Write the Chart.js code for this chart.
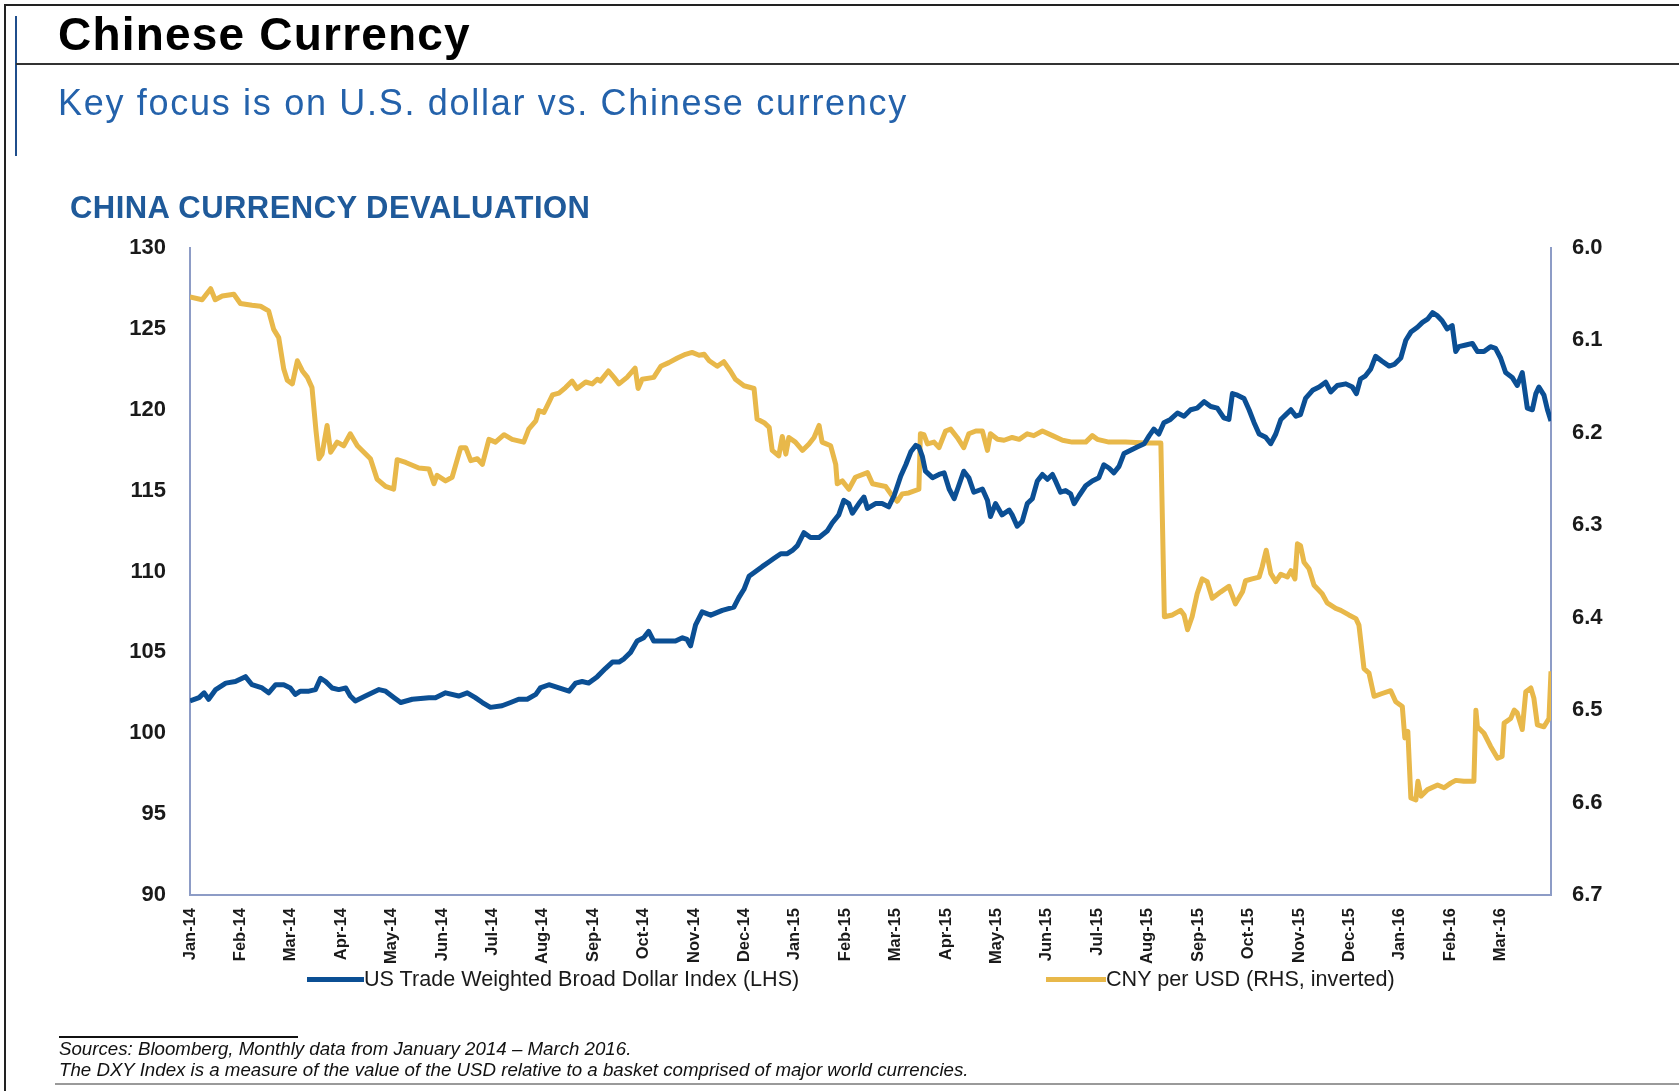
<!DOCTYPE html>
<html>
<head>
<meta charset="utf-8">
<script src="https://cdn.jsdelivr.net/npm/chart.js@4.4.1/dist/chart.umd.min.js"></script>
<style>
  html, body { margin: 0; padding: 0; background: #fff; }
  body { width: 1679px; height: 1091px; position: relative; overflow: hidden; font-family: 'Liberation Sans', Arial, sans-serif; }
  .abs { position: absolute; white-space: nowrap; line-height: 1; }
  #frame { left: 4px; top: 4px; width: 1675px; height: 1087px; border-left: 2px solid #222; border-top: 2px solid #222; }
  #accent { left: 15px; top: 16px; width: 2px; height: 140px; background: #1f4e8c; }
  #title { left: 58px; top: 11px; font-size: 46px; font-weight: bold; letter-spacing: 1.2px; color: #000; }
  #rule { left: 16px; top: 63px; width: 1663px; height: 2px; background: #333; }
  #subtitle { left: 58px; top: 85px; font-size: 36px; letter-spacing: 1.7px; color: #2462ab; }
  #heading { left: 70px; top: 192px; font-size: 31px; font-weight: bold; letter-spacing: 0.45px; color: #1f5a9a; }
  #chartBox { left: 0; top: 0; width: 1679px; height: 1091px; }
  .legend { top: 968px; font-size: 21.6px; color: #1a1a1a; }
  .swatch { position: absolute; height: 5px; top: 977px; }
  #noteRule { left: 59px; top: 1036px; width: 239px; height: 2px; background: #111; }
  .note { left: 59px; font-size: 18.7px; font-style: italic; color: #111; }
  #footRule { left: 55px; top: 1083px; width: 1624px; height: 2px; background: #9a9a9a; }
</style>
</head>
<body>
<div id="chartBox" class="abs"><canvas id="currencyChart"></canvas></div>
<div id="frame" class="abs"></div>
<div id="accent" class="abs"></div>
<div id="title" class="abs">Chinese Currency</div>
<div id="rule" class="abs"></div>
<div id="subtitle" class="abs">Key focus is on U.S. dollar vs. Chinese currency</div>
<div id="heading" class="abs">CHINA CURRENCY DEVALUATION</div>

<div class="swatch" style="left:307px;width:57px;background:#0b4f94;"></div>
<div class="abs legend" style="left:364px;">US Trade Weighted Broad Dollar Index (LHS)</div>
<div class="swatch" style="left:1046px;width:60px;background:#e8b84a;"></div>
<div class="abs legend" style="left:1106px;">CNY per USD (RHS, inverted)</div>

<div id="noteRule" class="abs"></div>
<div class="abs note" style="top:1040px;">Sources: Bloomberg, Monthly data from January 2014 – March 2016.</div>
<div class="abs note" style="top:1061px;">The DXY Index is a measure of the value of the USD relative to a basket comprised of major world currencies.</div>
<div id="footRule" class="abs"></div>

<script>
// month labels, one per tick (0 = Jan-14)
const monthLabels = ['Jan-14', 'Feb-14', 'Mar-14', 'Apr-14', 'May-14', 'Jun-14', 'Jul-14', 'Aug-14', 'Sep-14',
  'Oct-14', 'Nov-14', 'Dec-14', 'Jan-15', 'Feb-15', 'Mar-15', 'Apr-15', 'May-15', 'Jun-15', 'Jul-15',
  'Aug-15', 'Sep-15', 'Oct-15', 'Nov-15', 'Dec-15', 'Jan-16', 'Feb-16', 'Mar-16'];

// US trade weighted broad dollar index: time in months since Jan-14, value
const dollarMonths = [0, 0.18, 0.28, 0.37, 0.51, 0.71, 0.9, 1.1, 1.23, 1.43, 1.56, 1.7, 1.86, 1.99, 2.09, 2.19,
  2.36, 2.49, 2.59, 2.69, 2.82, 2.95, 3.09, 3.18, 3.28, 3.48, 3.75, 3.88, 4.05, 4.18, 4.41, 4.74, 4.87, 5.07,
  5.33, 5.5, 5.66, 5.8, 5.96, 6.19, 6.36, 6.52, 6.69, 6.86, 6.95, 7.12, 7.32, 7.52, 7.65, 7.78, 7.91, 8.08,
  8.24, 8.38, 8.51, 8.61, 8.74, 8.87, 9.0, 9.1, 9.2, 9.43, 9.63, 9.77, 9.86, 9.93, 10.03, 10.16, 10.33, 10.56,
  10.79, 10.89, 10.99, 11.09, 11.22, 11.35, 11.49, 11.58, 11.72, 11.85, 11.95, 12.05, 12.18, 12.31, 12.48,
  12.64, 12.74, 12.87, 12.97, 13.07, 13.14, 13.27, 13.37, 13.44, 13.6, 13.73, 13.86, 13.97, 14.1, 14.2, 14.3,
  14.4, 14.46, 14.53, 14.59, 14.73, 14.86, 14.96, 15.06, 15.16, 15.25, 15.35, 15.45, 15.55, 15.72, 15.82,
  15.88, 15.98, 16.11, 16.25, 16.31, 16.41, 16.51, 16.61, 16.71, 16.81, 16.91, 17.01, 17.11, 17.17, 17.27,
  17.37, 17.47, 17.54, 17.64, 17.77, 17.9, 18.03, 18.13, 18.23, 18.33, 18.43, 18.53, 18.66, 18.79, 18.93,
  19.03, 19.12, 19.22, 19.32, 19.45, 19.59, 19.72, 19.85, 19.98, 20.12, 20.25, 20.38, 20.51, 20.61, 20.68,
  20.78, 20.91, 21.01, 21.11, 21.21, 21.34, 21.44, 21.54, 21.64, 21.74, 21.84, 21.94, 22.03, 22.13, 22.27,
  22.4, 22.53, 22.63, 22.76, 22.93, 23.06, 23.14, 23.22, 23.32, 23.42, 23.52, 23.65, 23.79, 23.89, 24.02,
  24.12, 24.22, 24.35, 24.45, 24.55, 24.65, 24.75, 24.84, 24.94, 25.04, 25.11, 25.17, 25.31, 25.44, 25.54,
  25.67, 25.8, 25.9, 26.0, 26.1, 26.23, 26.33, 26.43, 26.53, 26.63, 26.7, 26.76, 26.86, 26.93, 27.0];
const dollarIndex = [102.0, 102.2, 102.5, 102.1, 102.7, 103.1, 103.2, 103.5, 103.0, 102.8, 102.5, 103.0, 103.0,
  102.8, 102.4, 102.6, 102.6, 102.7, 103.4, 103.2, 102.8, 102.7, 102.8, 102.3, 102.0, 102.3, 102.7, 102.6,
  102.2, 101.9, 102.1, 102.2, 102.2, 102.5, 102.3, 102.5, 102.2, 101.9, 101.6, 101.7, 101.9, 102.1, 102.1,
  102.4, 102.8, 103.0, 102.8, 102.6, 103.1, 103.2, 103.1, 103.5, 104.0, 104.4, 104.4, 104.6, 105.0, 105.7,
  105.9, 106.3, 105.7, 105.7, 105.7, 105.9, 105.8, 105.4, 106.7, 107.5, 107.3, 107.6, 107.8, 108.4, 108.9,
  109.7, 110.0, 110.3, 110.6, 110.8, 111.1, 111.1, 111.3, 111.6, 112.4, 112.1, 112.1, 112.5, 113.0, 113.5,
  114.4, 114.2, 113.6, 114.2, 114.6, 113.9, 114.2, 114.2, 114.0, 114.7, 115.9, 116.6, 117.4, 117.8, 117.7,
  117.1, 116.2, 115.8, 116.0, 116.1, 115.1, 114.5, 115.3, 116.2, 115.8, 114.9, 115.1, 114.4, 113.4, 114.2,
  113.5, 113.8, 113.5, 112.8, 113.1, 114.2, 114.5, 115.6, 116.0, 115.7, 116.0, 115.6, 114.9, 115.0, 114.8,
  114.2, 114.7, 115.3, 115.6, 115.8, 116.6, 116.4, 116.1, 116.5, 117.3, 117.5, 117.7, 117.9, 118.4, 118.8,
  118.5, 119.2, 119.4, 119.8, 119.6, 120.0, 120.1, 120.5, 120.2, 120.1, 119.5, 119.4, 121.0, 120.9, 120.7,
  120.0, 119.2, 118.5, 118.3, 117.9, 118.5, 119.4, 119.7, 120.0, 119.6, 119.7, 120.7, 121.2, 121.4, 121.7,
  121.1, 121.5, 121.6, 121.4, 121.0, 121.9, 122.1, 122.5, 123.3, 123.0, 122.7, 122.8, 123.2, 124.3, 124.8,
  125.1, 125.4, 125.6, 126.0, 125.8, 125.5, 125.0, 125.2, 123.6, 123.9, 124.0, 124.1, 123.6, 123.6, 123.9,
  123.8, 123.2, 122.3, 122.0, 121.5, 122.3, 120.1, 120.0, 121.0, 121.4, 120.9, 120.0, 119.3];

// CNY per USD (plotted on the inverted right axis)
const cnyMonths = [0, 0.24, 0.41, 0.5, 0.64, 0.87, 1.0, 1.23, 1.4, 1.56, 1.66, 1.76, 1.86, 1.93, 2.03, 2.13,
  2.23, 2.33, 2.42, 2.5, 2.56, 2.62, 2.72, 2.79, 2.92, 3.05, 3.18, 3.32, 3.45, 3.58, 3.71, 3.88, 4.04, 4.11,
  4.28, 4.54, 4.74, 4.84, 4.9, 5.07, 5.2, 5.37, 5.47, 5.57, 5.7, 5.8, 5.93, 6.06, 6.23, 6.39, 6.62, 6.72,
  6.86, 6.92, 7.02, 7.12, 7.19, 7.32, 7.45, 7.58, 7.68, 7.85, 7.98, 8.08, 8.14, 8.3, 8.41, 8.51, 8.67, 8.83,
  8.89, 8.97, 9.2, 9.34, 9.5, 9.67, 9.83, 9.96, 10.1, 10.2, 10.3, 10.46, 10.59, 10.72, 10.82, 10.99, 11.19,
  11.25, 11.39, 11.49, 11.55, 11.68, 11.75, 11.82, 11.88, 12.01, 12.15, 12.28, 12.38, 12.48, 12.54, 12.71,
  12.81, 12.84, 12.94, 13.07, 13.2, 13.44, 13.54, 13.8, 13.93, 14.03, 14.13, 14.26, 14.46, 14.49, 14.56,
  14.63, 14.76, 14.86, 14.99, 15.09, 15.22, 15.35, 15.45, 15.59, 15.72, 15.82, 15.88, 16.02, 16.15, 16.31,
  16.45, 16.61, 16.74, 16.91, 17.11, 17.31, 17.5, 17.77, 17.9, 18.0, 18.23, 18.56, 18.96, 19.26, 19.33,
  19.49, 19.65, 19.72, 19.79, 19.88, 19.98, 20.08, 20.18, 20.28, 20.45, 20.61, 20.74, 20.88, 20.94, 21.07,
  21.21, 21.27, 21.35, 21.44, 21.54, 21.64, 21.77, 21.84, 21.92, 21.97, 22.03, 22.1, 22.2, 22.3, 22.46,
  22.56, 22.73, 22.83, 22.99, 23.13, 23.19, 23.29, 23.39, 23.49, 23.65, 23.82, 23.92, 24.05, 24.1, 24.16,
  24.22, 24.32, 24.36, 24.42, 24.55, 24.75, 24.88, 25.01, 25.11, 25.27, 25.47, 25.51, 25.54, 25.67, 25.8,
  25.94, 26.03, 26.07, 26.2, 26.27, 26.33, 26.43, 26.5, 26.6, 26.66, 26.73, 26.86, 26.96, 27.0];
const cnyRate = [6.053, 6.056, 6.044, 6.056, 6.052, 6.050, 6.060, 6.062, 6.063, 6.068, 6.088, 6.097, 6.131,
  6.143, 6.147, 6.122, 6.133, 6.140, 6.151, 6.198, 6.228, 6.223, 6.192, 6.221, 6.210, 6.214, 6.201, 6.214,
  6.221, 6.228, 6.250, 6.258, 6.261, 6.229, 6.232, 6.238, 6.239, 6.255, 6.246, 6.252, 6.248, 6.216, 6.216,
  6.230, 6.228, 6.234, 6.207, 6.210, 6.202, 6.207, 6.210, 6.196, 6.187, 6.176, 6.178, 6.167, 6.159, 6.157,
  6.151, 6.144, 6.152, 6.145, 6.147, 6.142, 6.144, 6.133, 6.140, 6.147, 6.140, 6.130, 6.152, 6.142, 6.140,
  6.128, 6.124, 6.119, 6.115, 6.113, 6.116, 6.115, 6.122, 6.128, 6.123, 6.133, 6.142, 6.149, 6.152, 6.185,
  6.189, 6.194, 6.219, 6.225, 6.204, 6.223, 6.205, 6.210, 6.219, 6.212, 6.205, 6.192, 6.210, 6.214, 6.234,
  6.255, 6.252, 6.261, 6.248, 6.243, 6.255, 6.258, 6.268, 6.274, 6.266, 6.265, 6.261, 6.201, 6.202, 6.212,
  6.210, 6.216, 6.198, 6.196, 6.205, 6.216, 6.201, 6.198, 6.198, 6.219, 6.201, 6.207, 6.208, 6.205, 6.207,
  6.201, 6.203, 6.198, 6.203, 6.208, 6.210, 6.210, 6.203, 6.207, 6.210, 6.210, 6.211, 6.211, 6.399, 6.397,
  6.392, 6.397, 6.413, 6.399, 6.374, 6.358, 6.361, 6.379, 6.372, 6.366, 6.385, 6.372, 6.360, 6.358, 6.356,
  6.345, 6.327, 6.352, 6.361, 6.353, 6.356, 6.349, 6.358, 6.320, 6.322, 6.340, 6.347, 6.365, 6.374, 6.384,
  6.390, 6.392, 6.397, 6.401, 6.408, 6.455, 6.460, 6.485, 6.482, 6.479, 6.491, 6.496, 6.530, 6.523, 6.595,
  6.597, 6.577, 6.593, 6.586, 6.581, 6.584, 6.579, 6.576, 6.577, 6.577, 6.500, 6.518, 6.525, 6.539, 6.552,
  6.550, 6.514, 6.509, 6.500, 6.503, 6.521, 6.480, 6.476, 6.487, 6.516, 6.518, 6.509, 6.458];

const BLUE = '#0b4f94';
const GOLD = '#e8b84a';
const AXIS = '#8d9cc6';
const tickFont = { family: "'Liberation Sans', Arial, sans-serif", size: 22, weight: 'bold' };

function toPoints(xs, ys) {
  return xs.map((x, i) => ({ x: x, y: ys[i] }));
}

const ctx = document.getElementById('currencyChart').getContext('2d');

new Chart(ctx, {
  type: 'line',
  data: {
    datasets: [{
      label: 'US Trade Weighted Broad Dollar Index (LHS)',
      data: toPoints(dollarMonths, dollarIndex),
      yAxisID: 'y',
      borderColor: BLUE,
      borderWidth: 5,
      pointRadius: 0,
      tension: 0,
      borderJoinStyle: 'round',
    }, {
      label: 'CNY per USD (RHS, inverted)',
      data: toPoints(cnyMonths, cnyRate),
      yAxisID: 'y2',
      borderColor: GOLD,
      borderWidth: 5,
      pointRadius: 0,
      tension: 0,
      borderJoinStyle: 'round',
    }]
  },
  options: {
    responsive: true,
    maintainAspectRatio: false,
    animation: false,
    layout: { padding: { top: 248, left: 0, right: 0, bottom: 0 } },
    plugins: {
      legend: { display: false },
      tooltip: { enabled: false },
    },
    scales: {
      x: {
        type: 'linear',
        min: 0,
        max: 27,
        grid: { display: false, drawTicks: false },
        border: { display: true, color: AXIS, width: 2 },
        afterFit: (scale) => { scale.height = 196; },
        afterBuildTicks: (scale) => { scale.ticks = monthLabels.map((_, i) => ({ value: i })); },
        ticks: {
          autoSkip: false,
          minRotation: 90,
          maxRotation: 90,
          padding: 13,
          color: '#1a1a1a',
          font: { family: "'Liberation Sans', Arial, sans-serif", size: 16.5, weight: 'bold' },
          callback: (val) => monthLabels[val],
        }
      },
      y: {
        position: 'left',
        min: 90,
        max: 130,
        grid: { display: false, drawTicks: false },
        border: { display: true, color: AXIS, width: 2 },
        afterFit: (scale) => { scale.width = 190; },
        ticks: { stepSize: 5, padding: 24, color: '#1a1a1a', font: tickFont }
      },
      y2: {
        position: 'right',
        min: 6.0,
        max: 6.7,
        reverse: true,
        grid: { display: false, drawTicks: false },
        border: { display: true, color: AXIS, width: 2 },
        afterFit: (scale) => { scale.width = 128; },
        ticks: {
          stepSize: 0.1,
          padding: 21,
          color: '#1a1a1a',
          font: tickFont,
          callback: (val) => val.toFixed(1),
        }
      }
    }
  }
});
</script>
</body>
</html>
